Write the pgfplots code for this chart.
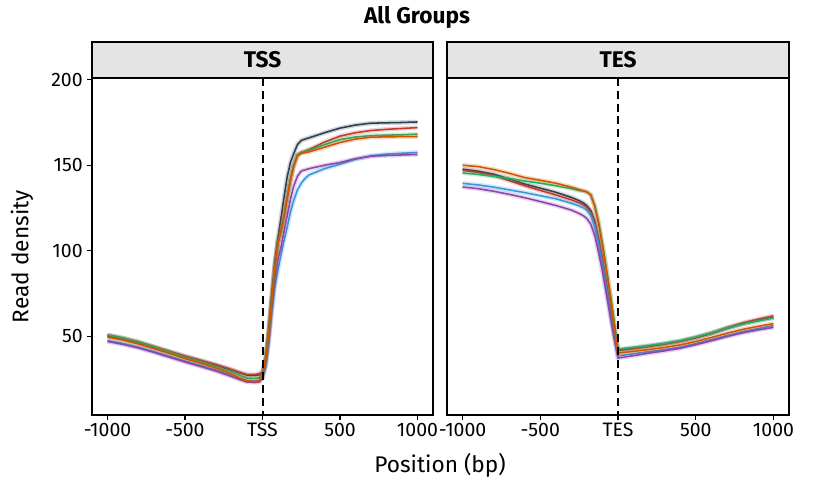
\documentclass[border=0pt]{standalone}
\usepackage{pgfplots}
\pgfplotsset{compat=1.18}
\usepackage{pgfplotstable}
\usepackage{fontspec}
\setmainfont{Fira Sans}
\setsansfont{Fira Sans}

\definecolor{cnavy}{HTML}{2C3E50}
\definecolor{cred}{HTML}{C0392B}
\definecolor{cgreen}{HTML}{27AE60}
\definecolor{corange}{HTML}{D35400}
\definecolor{cpurple}{HTML}{8E44AD}
\definecolor{cblue}{HTML}{3498DB}
\definecolor{stripgray}{HTML}{E4E4E4}

\pgfplotstableread{
x navy red green orange purple blue
-1000 50.3 50.8 50.8 49.5 47.0 47.5
-900 48.6 49.0 49.0 47.8 45.3 45.8
-800 46.3 46.8 46.6 45.5 43.2 43.6
-700 43.6 44.0 43.8 42.8 40.6 41.0
-600 40.9 41.2 40.8 40.0 37.8 38.3
-500 38.2 38.5 37.8 37.0 35.0 35.5
-400 35.7 36.0 35.2 34.3 32.4 32.9
-300 33.1 33.5 32.3 31.4 29.7 30.2
-200 30.3 30.6 29.2 28.0 26.5 27.0
-150 28.7 29.0 27.3 25.8 24.8 25.3
-100 27.3 27.6 25.6 24.0 23.3 24.0
-50 27.1 27.6 25.4 23.6 23.1 23.8
-20 27.5 28.2 25.8 24.3 23.3 24.2
0 29.0 29.0 28.0 28.0 25.5 25.5
20 37 36 36 36 33 32
40 54 52 52 52 48 46
60 75 72 72 72 67 64
80 94 91 91 91 83 79
100 108 105 105 104.5 95 89
120 119.5 112 112 111.5 102.5 98
140 132 121 121 120.5 112 106.5
160 143.5 131.5 131.5 131 121 114
180 151.5 141.5 141.5 141 130 122.5
200 156.5 149.5 149.5 149 137.5 129
225 162 156 156 155.5 143.5 135.5
250 164.5 157.5 157.5 157 146.6 139.5
275 165.3 158.3 158.2 157.4 147.3 142.3
300 166 159.2 158.7 157.8 148 144.3
400 169 163.5 162 160.5 150 148
500 171.7 167 165 163.3 151.6 150.6
600 173.5 169 166.5 165.3 153.8 153.5
700 174.6 170.3 167.3 166.4 155.3 155.5
800 174.8 171 167.6 166.6 155.7 156.5
900 175 171.5 167.8 166.7 156 157
1000 175.3 172 168.2 166.8 156.3 157.5
}\tss

\pgfplotstableread{
x navy red green orange purple blue
-1000 147.7 147.1 145.5 150.0 137.3 139.4
-900 146.5 145.8 144.6 149.2 136.3 138.5
-800 144.8 144.0 143.5 147.5 134.8 137.2
-700 142.0 141.0 142.3 145.3 133.0 135.6
-600 139.0 138.0 140.8 142.8 131.0 134.0
-500 136.6 135.3 139.5 141.2 128.8 132.2
-400 134.2 132.6 138.0 139.5 126.5 130.4
-300 131.2 129.8 136.3 137.2 123.8 127.8
-250 129.3 128.0 135.2 135.8 121.8 126.2
-220 127.8 126.6 134.8 135.0 120.3 125.0
-200 126.3 125.2 134.3 134.4 118.8 123.6
-175 123.5 122.5 132.8 132.5 115.5 120.5
-150 117.5 116.5 126.5 126.0 109.0 114.5
-125 107.0 106.0 117.0 116.0 99.0 104.0
-100 95.0 94.0 104.0 103.0 88.0 92.0
-75 81.0 80.0 90.0 89.0 75.0 78.5
-50 67.0 66.0 75.0 74.0 62.0 64.5
-25 53.0 52.5 59.0 57.5 49.0 51.0
0 41.8 41.7 42.5 40.2 37.3 38.6
100 43.0 42.8 43.5 41.2 38.7 39.8
200 44.3 44.0 44.6 42.3 40.2 41.0
300 45.6 45.4 45.9 43.5 41.5 42.2
400 47.2 47.0 47.4 45.0 43.0 43.6
500 49.2 49.2 49.6 47.0 45.1 45.7
600 51.7 51.8 52.0 49.3 47.4 48.0
700 54.6 55.0 54.8 51.8 49.8 50.4
800 57.2 57.8 57.2 54.0 52.0 52.6
900 59.2 60.0 59.0 55.8 53.7 54.5
1000 61.0 62.0 60.7 57.4 55.2 56.2
}\tes

\newcommand{\series}[3]{%
  \addplot[#2, line width=3.4pt, opacity=0.22, forget plot] table[x=x,y=#3]{#1};
  \addplot[#2, line width=1.15pt] table[x=x,y=#3]{#1};
}
\newcommand{\allseries}[1]{%
  \series{#1}{cnavy}{navy}
  \series{#1}{cred}{red}
  \series{#1}{cblue}{blue}
  \series{#1}{cpurple}{purple}
  \series{#1}{cgreen}{green}
  \series{#1}{corange}{orange}
  \draw[black, line width=1.5pt, line cap=butt, dash pattern=on 6pt off 3.6pt] (axis cs:0,201) -- (axis cs:0,4);
}

\pgfplotsset{
  panel/.style={
    scale only axis,
    anchor=south west,
    height=252.75pt,
    xmin=-1100, xmax=1100,
    ymin=4, ymax=201,
    axis line style={line width=1.1pt, black},
    every tick/.style={line width=0.9pt, black},
    tick align=outside,
    tick pos=left,
    major tick length=3.5pt,
    xtick={-1000,-500,0,500,1000},
    ytick={50,100,150,200},
    tick label style={font=\fontsize{14.6}{15}\selectfont, text=black},
    xticklabel style={yshift=1pt},
    /pgf/number format/assume math mode=true,
    /pgf/number format/1000 sep={},
    clip=true,
  }
}

\begin{document}
\begin{tikzpicture}
\path[use as bounding box] (0,0) rectangle (622.5pt,360.75pt);

% left panel
\begin{axis}[panel, at={(69pt,49.5pt)}, width=255.75pt,
  xticklabels={-1000,-500,TSS,500,1000}]
  \allseries{\tss}
\end{axis}

% right panel
\begin{axis}[panel, at={(335.25pt,49.5pt)}, width=256.5pt,
  xticklabels={-1000,-500,TES,500,1000}, ytick=\empty]
  \allseries{\tes}
\end{axis}

% strips
\draw[line width=1.1pt, fill=stripgray] (69pt,302.25pt) rectangle (324.75pt,329.25pt);
\draw[line width=1.1pt, fill=stripgray] (335.25pt,302.25pt) rectangle (591.75pt,329.25pt);
\node[font=\bfseries\fontsize{17}{18}\selectfont] at (196.9pt,315.75pt) {TSS};
\node[font=\bfseries\fontsize{17}{18}\selectfont] at (463.5pt,315.75pt) {TES};

% title and axis labels
\node[font=\bfseries\fontsize{17}{18}\selectfont] at (312.75pt,347.5pt) {All Groups};
\node[font=\fontsize{17}{18}\selectfont, rotate=90] at (16.5pt,168.2pt) {Read density};
\node[font=\fontsize{17}{18}\selectfont] at (330pt,11.5pt) {Position (bp)};
\end{tikzpicture}
\end{document}
